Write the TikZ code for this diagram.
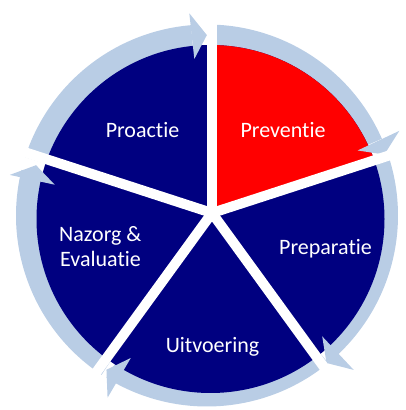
\documentclass[tikz,border=0pt]{standalone}
\usepackage{fontspec}
\setmainfont{Carlito}[Ligatures={NoCommon}]
\usetikzlibrary{calc}
\definecolor{navyc}{RGB}{0,0,128}
\definecolor{redc}{RGB}{255,0,0}
\definecolor{ringc}{RGB}{185,205,229}
\tikzset{
  lbl/.style={text=white, inner sep=0pt, font=\fontsize{22}{26}\selectfont},
  spoke/.style={draw=white, line width=10pt},
  ringfill/.style={fill=ringc},
}
\begin{document}
\begin{tikzpicture}[x=1pt,y=1pt]
\useasboundingbox (0,0) rectangle (406,410);
\coordinate (Cs) at (212,197);
\coordinate (Cr) at (207,194.5);
\coordinate (Cd) at (210.5,191);
\coordinate (Ch) at (212,191);
% ring shafts (behind the disc)
\begin{scope}[shift={(Cr)}]
\foreach \a/\t in {162.2/91.6, 89.6/20.5, 19.6/-51.5, -50.6/-125, -123.5/-197}{
  \pgfmathsetmacro{\b}{\t+3.2}
  \fill[ringfill] (\a:191) arc[start angle=\a, end angle=\b, radius=191]
     -- (\b:160) arc[start angle=\b, end angle=\a, radius=160] -- cycle;
}
\end{scope}
% disc
\fill[navyc] (Cd) circle[radius=174];
\begin{scope}
\clip (Cd) circle[radius=174];
\fill[redc] (Cs) -- ($(Cs)+(90:400)$) -- ($(Cs)+(54:400)$) -- ($(Cs)+(18:400)$) -- cycle;
\end{scope}
% arrow heads
\begin{scope}[shift={(Ch)}]
\foreach \t in {91.6, 20.5, -51.5, -125, -197}{
  \pgfmathsetmacro{\b}{\t+4.7}
  \fill[ringfill] (\b:207) -- (\t:184) -- (\b:161) -- cycle;
}
\end{scope}
% spokes
\foreach \t in {90,18,-54,-126,162}{
  \draw[spoke] (Cs) -- ++(\t:215);
}
% labels
\node[lbl, anchor=base] (proactie) at (142.5,272) {Proactie};
\node[lbl, anchor=base] (preventie) at (283,272) {Preventie};
\node[lbl, anchor=base] (preparatie) at (325.5,155) {Preparatie};
\node[lbl, anchor=base west] (nazorg) at (59,168) {Nazorg \&};
\node[lbl, anchor=base west] (evaluatie) at (60,143) {Evaluatie};
\node[lbl, anchor=base] (uitvoering) at (212.5,57) {Uitvoering};
\end{tikzpicture}
\end{document}
